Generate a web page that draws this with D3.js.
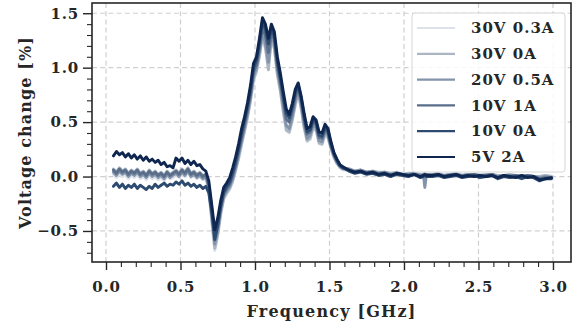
<!DOCTYPE html>
<html>
<head>
<meta charset="utf-8">
<script src="https://cdn.jsdelivr.net/npm/d3@7"></script>
<style>
  html, body { margin: 0; padding: 0; background: #fff; }
  svg { display: block; }
  text { font-family: "DejaVu Serif", serif; font-weight: bold; fill: #262626; }
</style>
</head>
<body>
<svg id="chart" width="576" height="323"></svg>
<script>
// Sampled frequencies in GHz (finer near the resonance, coarser in the flat tail)
const frequency = [
  0.05,0.07,0.09,0.11,0.13,0.15,0.17,0.19,0.21,0.23,0.25,0.27,0.29,0.31,0.33,0.35,0.37,0.39,0.41,0.43,0.45,0.47,0.49,0.51,0.53,0.55,0.57,0.59,0.61,0.63,0.65,0.67,0.69,
  0.71,0.73,0.75,0.77,0.79,0.81,0.83,0.85,0.87,0.89,0.91,0.93,0.95,0.97,0.99,1.01,1.03,1.05,1.07,1.09,1.11,1.13,1.15,1.17,1.19,1.21,1.23,1.25,1.27,1.29,1.31,1.33,1.35,1.37,1.39,1.41,1.43,1.45,1.47,1.49,1.51,1.53,1.55,1.57,1.59,
  1.63,1.67,1.71,1.75,1.79,1.83,1.87,1.91,1.95,1.99,2.03,2.07,2.11,2.13,2.14,2.15,2.19,2.23,2.27,2.31,2.35,2.39,2.43,2.47,2.51,2.55,2.59,2.63,2.67,2.71,2.75,2.79,2.83,2.87,2.91,2.95,2.99
];

// Voltage change [%] for each bias setting
const v30V03A = [
  0.02,-0.01,0.03,0.00,0.02,-0.02,0.01,-0.01,0.02,-0.02,0.00,-0.03,0.01,-0.02,0.00,-0.03,-0.01,-0.04,0.00,-0.02,-0.01,0.02,-0.01,0.03,0.00,0.04,-0.01,0.01,-0.02,0.00,-0.03,-0.02,-0.14,
  -0.42,-0.68,-0.55,-0.36,-0.21,-0.16,-0.12,-0.05,0.05,0.16,0.29,0.41,0.54,0.69,0.88,0.96,1.10,1.28,1.20,1.02,1.26,1.17,0.93,0.78,0.59,0.42,0.40,0.51,0.65,0.76,0.62,0.44,0.32,0.34,0.44,0.42,0.30,0.29,0.38,0.35,0.25,0.17,0.12,0.08,0.06,
  0.06,0.05,0.05,0.04,0.04,0.03,0.04,0.02,0.03,0.03,0.02,0.03,0.02,0.02,0.02,0.02,0.02,0.02,0.01,0.02,0.02,0.01,0.02,0.01,0.02,0.01,0.02,0.01,0.01,0.01,0.01,0.00,0.01,0.00,0.00,0.01,0.00
];
const v30V0A = [
  0.07,0.04,0.08,0.05,0.07,0.03,0.06,0.04,0.07,0.03,0.05,0.02,0.06,0.03,0.05,0.02,0.04,0.01,0.05,0.02,0.04,0.06,0.03,0.07,0.04,0.08,0.03,0.05,0.02,0.04,0.01,0.02,-0.12,
  -0.40,-0.66,-0.53,-0.34,-0.20,-0.15,-0.11,-0.04,0.06,0.17,0.30,0.42,0.55,0.70,0.89,0.97,1.11,1.30,1.18,0.98,1.27,1.18,0.94,0.79,0.60,0.43,0.41,0.52,0.66,0.77,0.63,0.45,0.33,0.35,0.45,0.43,0.31,0.30,0.39,0.36,0.26,0.18,0.12,0.09,0.07,
  0.07,0.05,0.06,0.04,0.05,0.04,0.04,0.03,0.04,0.02,0.03,0.03,0.02,0.02,0.03,0.02,0.02,0.03,0.01,0.02,0.03,0.01,0.02,0.02,0.01,0.02,0.02,0.01,0.01,0.02,0.01,0.01,0.01,0.00,0.00,0.01,0.00
];
const v20V05A = [
  0.04,0.01,0.05,0.02,0.04,0.00,0.03,0.01,0.04,0.00,0.02,-0.01,0.03,0.00,0.02,-0.01,0.01,-0.02,0.02,-0.01,0.01,0.03,0.00,0.04,0.01,0.05,0.00,0.02,-0.01,0.01,-0.02,0.00,-0.10,
  -0.36,-0.62,-0.50,-0.31,-0.18,-0.13,-0.09,-0.02,0.08,0.20,0.33,0.45,0.58,0.73,0.92,1.00,1.14,1.33,1.22,1.05,1.30,1.22,0.98,0.83,0.64,0.47,0.44,0.55,0.69,0.79,0.66,0.48,0.35,0.38,0.47,0.45,0.33,0.32,0.41,0.38,0.27,0.19,0.13,0.09,0.07,
  0.07,0.05,0.06,0.04,0.05,0.03,0.04,0.02,0.03,0.02,0.02,0.03,0.01,0.02,-0.10,0.01,0.02,0.02,0.01,0.02,0.02,0.01,0.02,0.02,0.01,0.01,0.02,0.00,0.01,0.01,0.01,0.00,0.01,0.00,-0.01,0.00,-0.01
];
const v10V1A = [
  0.06,0.03,0.07,0.04,0.06,0.02,0.05,0.03,0.06,0.02,0.04,0.01,0.05,0.02,0.04,0.01,0.03,0.00,0.04,0.01,0.03,0.05,0.02,0.06,0.03,0.07,0.02,0.04,0.01,0.03,0.00,0.02,-0.08,
  -0.30,-0.56,-0.44,-0.28,-0.16,-0.11,-0.07,0.01,0.11,0.23,0.36,0.48,0.61,0.76,0.96,1.03,1.18,1.37,1.30,1.14,1.33,1.26,1.02,0.87,0.70,0.53,0.50,0.60,0.73,0.82,0.70,0.52,0.39,0.41,0.50,0.48,0.36,0.35,0.43,0.40,0.28,0.20,0.14,0.10,0.08,
  0.06,0.04,0.05,0.03,0.04,0.02,0.03,0.01,0.03,0.02,0.01,0.02,0.00,0.01,0.01,0.02,0.01,0.02,0.00,0.01,0.02,0.00,0.01,0.02,0.00,0.01,0.02,-0.01,0.01,0.00,0.01,-0.01,0.01,0.00,-0.02,-0.01,-0.01
];
const v10V0A = [
  -0.09,-0.06,-0.10,-0.07,-0.11,-0.08,-0.10,-0.07,-0.11,-0.08,-0.10,-0.12,-0.09,-0.11,-0.07,-0.10,-0.08,-0.06,-0.09,-0.07,-0.08,-0.05,-0.07,-0.04,-0.08,-0.06,-0.09,-0.07,-0.10,-0.08,-0.11,-0.09,-0.15,
  -0.33,-0.58,-0.45,-0.27,-0.14,-0.09,-0.05,0.04,0.14,0.26,0.40,0.52,0.65,0.80,1.00,1.07,1.23,1.42,1.36,1.22,1.37,1.29,1.06,0.91,0.74,0.58,0.54,0.64,0.77,0.84,0.72,0.55,0.41,0.43,0.52,0.50,0.38,0.37,0.45,0.42,0.30,0.21,0.15,0.10,0.08,
  0.05,0.03,0.04,0.02,0.03,0.01,0.02,0.00,0.02,0.01,0.00,0.02,-0.01,0.00,0.01,0.00,0.00,0.01,-0.01,0.00,0.01,-0.01,0.00,0.01,-0.01,0.00,0.01,-0.02,0.00,-0.01,0.00,-0.02,0.00,-0.01,-0.04,-0.02,-0.02
];
const v5V2A = [
  0.19,0.23,0.20,0.22,0.18,0.21,0.17,0.20,0.16,0.19,0.15,0.18,0.14,0.16,0.13,0.15,0.11,0.13,0.09,0.10,0.08,0.17,0.14,0.17,0.12,0.15,0.11,0.14,0.10,0.11,0.07,0.05,-0.04,
  -0.26,-0.49,-0.38,-0.22,-0.10,-0.06,-0.01,0.08,0.18,0.30,0.44,0.55,0.68,0.84,1.04,1.10,1.27,1.46,1.40,1.27,1.40,1.33,1.10,0.95,0.78,0.62,0.57,0.67,0.80,0.86,0.74,0.58,0.44,0.46,0.55,0.52,0.41,0.40,0.48,0.44,0.32,0.22,0.16,0.11,0.09,
  0.06,0.04,0.05,0.03,0.04,0.02,0.03,0.01,0.03,0.02,0.01,0.02,0.00,0.01,0.02,0.01,0.01,0.02,0.00,0.01,0.02,0.00,0.01,0.00,0.01,0.00,0.01,-0.01,0.01,0.00,-0.01,0.01,-0.01,0.00,-0.03,-0.02,-0.01
];

const seriesNames = ["30V 0.3A", "30V 0A", "20V 0.5A", "10V 1A", "10V 0A", "5V 2A"];
const seriesValues = [v30V03A, v30V0A, v20V05A, v10V1A, v10V0A, v5V2A];
const seriesColors = ["#dde2ea", "#aab6c4", "#8293aa", "#5a6d89", "#2d4a70", "#0e2650"];

const xTicks = [0.0, 0.5, 1.0, 1.5, 2.0, 2.5, 3.0];
const yTicks = [-0.5, 0.0, 0.5, 1.0, 1.5];

const svg = d3.select("#chart");
const plot = { left: 92, right: 571, top: 3, bottom: 262 };

const x = d3.scaleLinear().domain([-0.094, 3.121]).range([plot.left, plot.right]);
const y = d3.scaleLinear().domain([-0.785, 1.594]).range([plot.bottom, plot.top]);

const ink = "#262626";

// dashed grid
const grid = svg.append("g");
grid.selectAll("line.gx").data(xTicks).join("line")
  .attr("x1", d => x(d)).attr("x2", d => x(d))
  .attr("y1", plot.top).attr("y2", plot.bottom)
  .attr("stroke", "#cfcfcf").attr("stroke-width", 1.2).attr("stroke-dasharray", "5,3.2");
grid.selectAll("line.gy").data(yTicks).join("line")
  .attr("x1", plot.left).attr("x2", plot.right)
  .attr("y1", d => y(d)).attr("y2", d => y(d))
  .attr("stroke", "#cfcfcf").attr("stroke-width", 1.2).attr("stroke-dasharray", "5,3.2");

// series
const line = d3.line().x((d, i) => x(frequency[i])).y(d => y(d));
const clipId = "plotclip";
svg.append("clipPath").attr("id", clipId).append("rect")
  .attr("x", plot.left).attr("y", plot.top)
  .attr("width", plot.right - plot.left).attr("height", plot.bottom - plot.top);
svg.append("g").attr("clip-path", `url(#${clipId})`)
  .selectAll("path").data(seriesValues).join("path")
  .attr("d", d => line(d))
  .attr("fill", "none")
  .attr("stroke", (d, i) => seriesColors[i])
  .attr("stroke-width", 2.9)
  .attr("stroke-linejoin", "round")
  .attr("stroke-linecap", "round");

// axes
const xMinor = d3.range(0, 31).map(i => i / 10).filter(v => Math.abs(v * 2 - Math.round(v * 2)) > 1e-6);
const yMinor = d3.range(-7, 16).map(i => i / 10).filter(v => Math.abs(v * 2 - Math.round(v * 2)) > 1e-6);

function styleAxis(g) {
  g.select(".domain").remove();
  g.selectAll(".tick line").attr("stroke", ink);
}

const xAxis = svg.append("g").attr("transform", `translate(0,${plot.bottom})`)
  .call(d3.axisBottom(x).tickValues(xTicks).tickFormat(d3.format(".1f")).tickSize(8).tickPadding(11))
  .call(styleAxis);
xAxis.selectAll(".tick line").attr("stroke-width", 1.4);
xAxis.selectAll(".tick text").attr("font-size", 15).attr("fill", ink)
  .attr("letter-spacing", "0.8px")
  .attr("font-family", "DejaVu Serif").attr("font-weight", "bold");

svg.append("g").attr("transform", `translate(0,${plot.bottom})`)
  .call(d3.axisBottom(x).tickValues(xMinor).tickFormat("").tickSize(5))
  .call(styleAxis)
  .selectAll(".tick line").attr("stroke-width", 1.1);

const yAxis = svg.append("g").attr("transform", `translate(${plot.left},0)`)
  .call(d3.axisLeft(y).tickValues(yTicks).tickFormat(d3.format(".1f")).tickSize(9).tickPadding(4))
  .call(styleAxis);
yAxis.selectAll(".tick line").attr("stroke-width", 1.4);
yAxis.selectAll(".tick text").attr("font-size", 15).attr("fill", ink)
  .attr("letter-spacing", "0.8px")
  .attr("font-family", "DejaVu Serif").attr("font-weight", "bold");

svg.append("g").attr("transform", `translate(${plot.left},0)`)
  .call(d3.axisLeft(y).tickValues(yMinor).tickFormat("").tickSize(5))
  .call(styleAxis)
  .selectAll(".tick line").attr("stroke-width", 1.1);

// frame
svg.append("rect")
  .attr("x", plot.left).attr("y", plot.top)
  .attr("width", plot.right - plot.left).attr("height", plot.bottom - plot.top)
  .attr("fill", "none").attr("stroke", ink).attr("stroke-width", 1.6);

// axis titles
svg.append("text")
  .attr("x", (plot.left + plot.right) / 2).attr("y", 317)
  .attr("text-anchor", "middle").attr("font-size", 16)
  .attr("letter-spacing", "1.2px")
  .text("Frequency [GHz]");
svg.append("text")
  .attr("transform", `translate(31,${(plot.top + plot.bottom) / 2}) rotate(-90)`)
  .attr("text-anchor", "middle").attr("font-size", 16)
  .attr("letter-spacing", "1.1px")
  .text("Voltage change [%]");

// legend
const legend = svg.append("g");
legend.append("rect")
  .attr("x", 412).attr("y", 13).attr("width", 153).attr("height", 159)
  .attr("rx", 3).attr("fill", "#fff").attr("fill-opacity", 0.85)
  .attr("stroke", "#d6d6d6").attr("stroke-width", 1);
const rows = legend.selectAll("g.row").data(seriesNames).join("g")
  .attr("transform", (d, i) => `translate(0,${28 + i * 25.8})`);
rows.append("line")
  .attr("x1", 417).attr("x2", 455).attr("y1", 0).attr("y2", 0)
  .attr("stroke", (d, i) => seriesColors[i]).attr("stroke-width", 2.2);
rows.append("text")
  .attr("x", 471).attr("y", 0).attr("dy", "0.35em")
  .attr("font-size", 15)
  .attr("letter-spacing", "1px")
  .text(d => d);
</script>
</body>
</html>
